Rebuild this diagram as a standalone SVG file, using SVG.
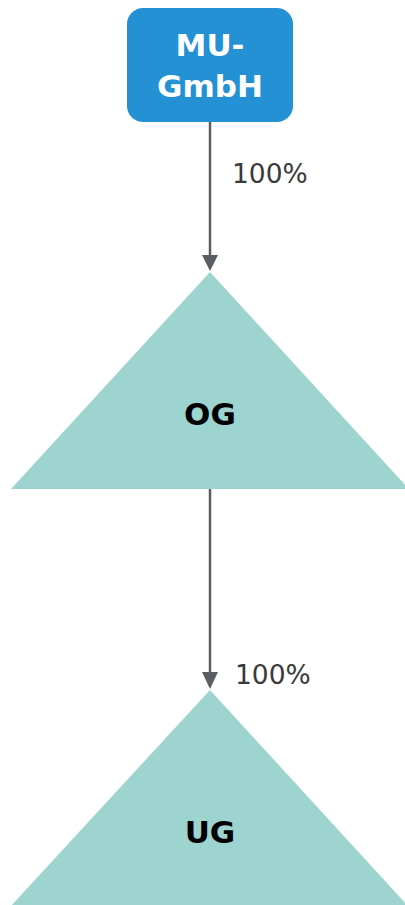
<svg xmlns="http://www.w3.org/2000/svg" width="405" height="905" viewBox="0 0 405 905">
<style>
.tri{fill:#9dd4cf}
.lbl{font-family:"DejaVu Sans",Verdana,sans-serif;font-size:26.5px;fill:#3a3a3a}
.nt{font-family:"DejaVu Sans",Verdana,sans-serif;font-weight:bold;text-anchor:middle}
.edge{stroke:#5a5d62;stroke-width:2.5;fill:none}
</style>
<g id="connectors">
<line class="edge" x1="210" y1="122" x2="210" y2="257"/>
<path d="M202,255 L218,255 L210,271 Z" fill="#5a5d62"/>
<line class="edge" x1="210" y1="489" x2="210" y2="674"/>
<path d="M202,672 L218,672 L210,689 Z" fill="#5a5d62"/>
<text class="lbl" x="232" y="183">100%</text>
<text class="lbl" x="235" y="684">100%</text>
</g>
<g id="mu">
<rect x="127" y="8" width="166" height="114" rx="16" fill="#2391d4"/>
<text class="nt" x="210" y="56" font-size="31" fill="#fff">MU-</text>
<text class="nt" x="210" y="97" font-size="31" fill="#fff">GmbH</text>
</g>
<g id="og">
<polygon class="tri" points="210,272 409,489 11,489"/>
<text class="nt" x="210" y="425" font-size="31" fill="#000">OG</text>
</g>
<g id="ug">
<polygon class="tri" points="210,690 409,907 10,907"/>
<text class="nt" x="210" y="843" font-size="31" fill="#000">UG</text>
</g>
</svg>
